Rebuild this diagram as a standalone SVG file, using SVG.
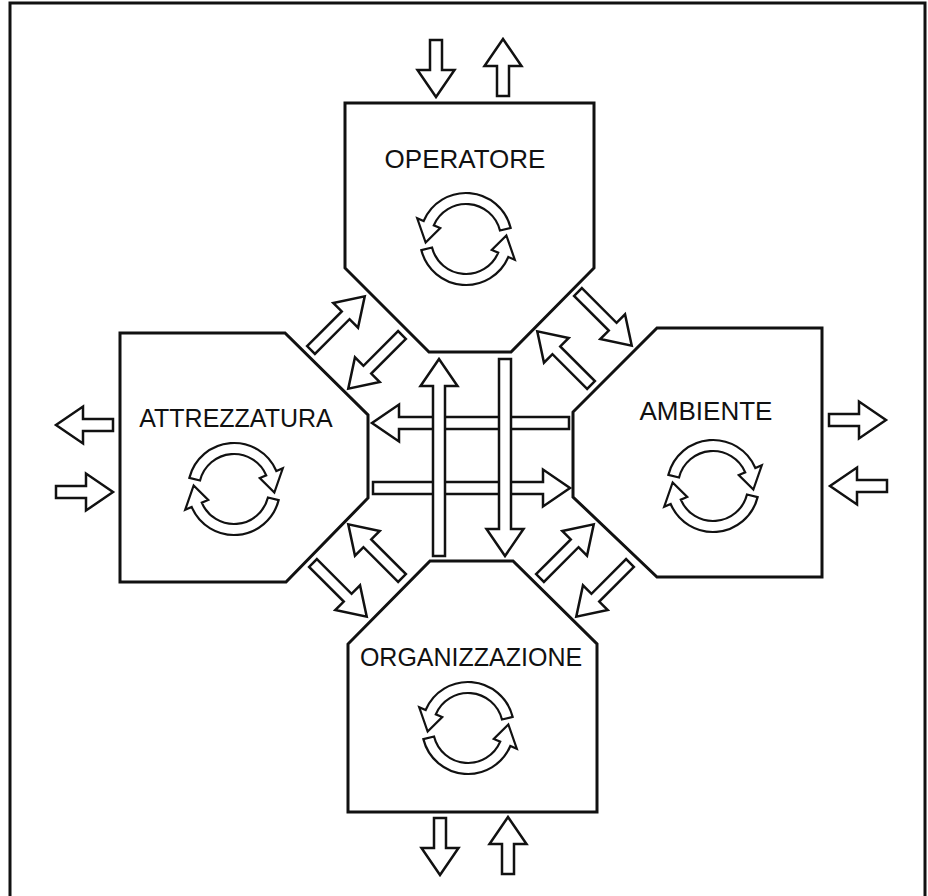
<svg xmlns="http://www.w3.org/2000/svg" xmlns:xlink="http://www.w3.org/1999/xlink" width="928" height="896" viewBox="0 0 928 896">
<style>
.frame{fill:none;stroke:#111;stroke-width:3}
.node{fill:#fff;stroke:#111;stroke-width:3;stroke-linejoin:miter}
.arr{fill:#fff;stroke:#111;stroke-width:2.5;stroke-linejoin:miter}
.cyc{fill:#fff;stroke:#111;stroke-width:2.2;stroke-linejoin:miter}
.lbl{font-family:"Liberation Sans",Arial,sans-serif;font-size:25px;fill:#111;text-anchor:middle}
</style>
<defs>
<path id="a57" d="M0,-6 H30 V-18.5 L57,0 L30,18.5 V6 H0 Z"/>
<path id="a76" d="M0,-5.5 H49 V-17.5 L76,0 L49,17.5 V5.5 H0 Z"/>
<path id="a197" d="M0,-6 H170 V-18.5 L197,0 L170,18.5 V6 H0 Z"/>
<path id="half" d="M44.63,-11.13 A46,46 0 0 0 -42.34,-17.97 L-48.79,-20.71 L-40.35,3.53 L-25.77,-10.94 L-32.22,-13.68 A35,35 0 0 1 33.96,-8.47 Z"/>
<g id="cycle"><use xlink:href="#half" href="#half"/><use xlink:href="#half" href="#half" transform="rotate(180)"/></g>
</defs>
<rect x="10" y="3" width="915" height="910" fill="#fff" class="frame"/>

<g id="connectors" class="arr">
<use href="#a57" xlink:href="#a57" transform="translate(436,40) rotate(90)"/>
<use href="#a57" xlink:href="#a57" transform="translate(503,96) rotate(-90)"/>
<use href="#a57" xlink:href="#a57" transform="translate(113,425) rotate(180)"/>
<use href="#a57" xlink:href="#a57" transform="translate(56,492)"/>
<use href="#a57" xlink:href="#a57" transform="translate(829,420)"/>
<use href="#a57" xlink:href="#a57" transform="translate(887,486) rotate(180)"/>
<use href="#a57" xlink:href="#a57" transform="translate(440,818) rotate(90)"/>
<use href="#a57" xlink:href="#a57" transform="translate(508,874) rotate(-90)"/>
<use href="#a197" xlink:href="#a197" transform="translate(569,423) rotate(180)"/>
<use href="#a197" xlink:href="#a197" transform="translate(373,488)"/>
<use href="#a197" xlink:href="#a197" transform="translate(439,556) rotate(-90)"/>
<use href="#a197" xlink:href="#a197" transform="translate(505,359) rotate(90)"/>
<use href="#a76" xlink:href="#a76" transform="translate(311,350) rotate(-45)"/>
<use href="#a76" xlink:href="#a76" transform="translate(402,335) rotate(135)"/>
<use href="#a76" xlink:href="#a76" transform="translate(578,292) rotate(45)"/>
<use href="#a76" xlink:href="#a76" transform="translate(591,385) rotate(-135)"/>
<use href="#a76" xlink:href="#a76" transform="translate(402,578) rotate(-135)"/>
<use href="#a76" xlink:href="#a76" transform="translate(313,563) rotate(45)"/>
<use href="#a76" xlink:href="#a76" transform="translate(540,578) rotate(-45)"/>
<use href="#a76" xlink:href="#a76" transform="translate(630,563) rotate(135)"/>
</g>

<g id="operatore">
<path class="node" d="M345,103 H594 V268 L511,352 H429 L345,268 Z"/>
<text class="lbl" x="465" y="168" style="font-size:26px">OPERATORE</text>
<use class="cyc" href="#cycle" xlink:href="#cycle" transform="translate(466,239)"/>
</g>

<g id="attrezzatura">
<path class="node" d="M120,333 H285 L368,415 V498 L286,582 H120 Z"/>
<text class="lbl" x="236" y="427">ATTREZZATURA</text>
<use class="cyc" href="#cycle" xlink:href="#cycle" transform="translate(234,489) scale(-1,1)"/>
</g>

<g id="ambiente">
<path class="node" d="M657,328 H822 V577 H657 L573,497 V412 Z"/>
<text class="lbl" x="706" y="420" style="font-size:26px">AMBIENTE</text>
<use class="cyc" href="#cycle" xlink:href="#cycle" transform="translate(713,486) scale(-1,1)"/>
</g>

<g id="organizzazione">
<path class="node" d="M430,561 H513 L597,644 V812 H348 V644 Z"/>
<text class="lbl" x="471" y="666">ORGANIZZAZIONE</text>
<use class="cyc" href="#cycle" xlink:href="#cycle" transform="translate(468,728)"/>
</g>
</svg>
